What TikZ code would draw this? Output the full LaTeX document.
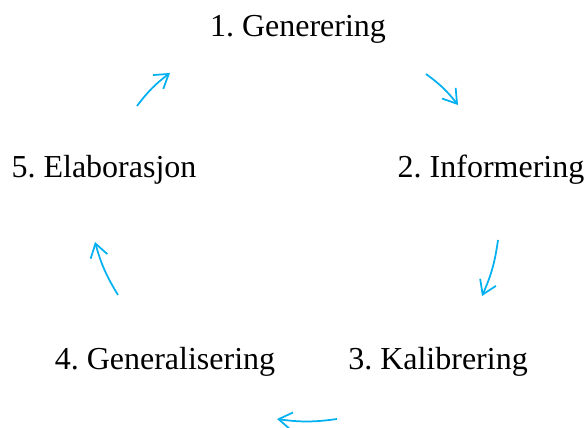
\documentclass[tikz,border=0pt]{standalone}
\usepackage{fontspec}
\setmainfont{Liberation Serif}
\usepackage{tikz}
\usetikzlibrary{positioning,arrows.meta}
\definecolor{skyarrow}{RGB}{0,176,240}
\frenchspacing

\begin{document}
\begin{tikzpicture}[x=0.75pt,y=-0.75pt,
  stage/.style={font=\fontsize{24}{28}\selectfont, inner sep=0pt},
  cyc/.style={draw=skyarrow, line width=1.3pt, -{Straight Barb[length=10pt,width=13pt]}}]
\useasboundingbox (0,0) rectangle (587,428);

% Stages
\node[stage] (gen)  at (298,29)  {1. Generering};
\node[stage] (inf)  at (491,170) {2. Informering};
\node[stage] (kal)  at (438,362) {3. Kalibrering};
\node[stage] (gal)  at (165,362) {4. Generalisering};
\node[stage] (ela)  at (104,170) {5. Elaborasjon};

% Arrow ends
\coordinate (a1s) at (426,74);  \coordinate (a1e) at (458,105);
\coordinate (a2s) at (498,240); \coordinate (a2e) at (482,296);
\coordinate (a3s) at (337,419); \coordinate (a3e) at (277,419);
\coordinate (a4s) at (118,295); \coordinate (a4e) at (95,242);
\coordinate (a5s) at (137,106); \coordinate (a5e) at (170,73);

% Cycle
\draw[cyc] (a1s) to[bend left=8] (a1e);
\draw[cyc] (a2s) to[bend left=8] (a2e);
\draw[cyc] (a3s) to[bend left=8] (a3e);
\draw[cyc] (a4s) to[bend left=8] (a4e);
\draw[cyc] (a5s) to[bend left=8] (a5e);
\end{tikzpicture}
\end{document}
